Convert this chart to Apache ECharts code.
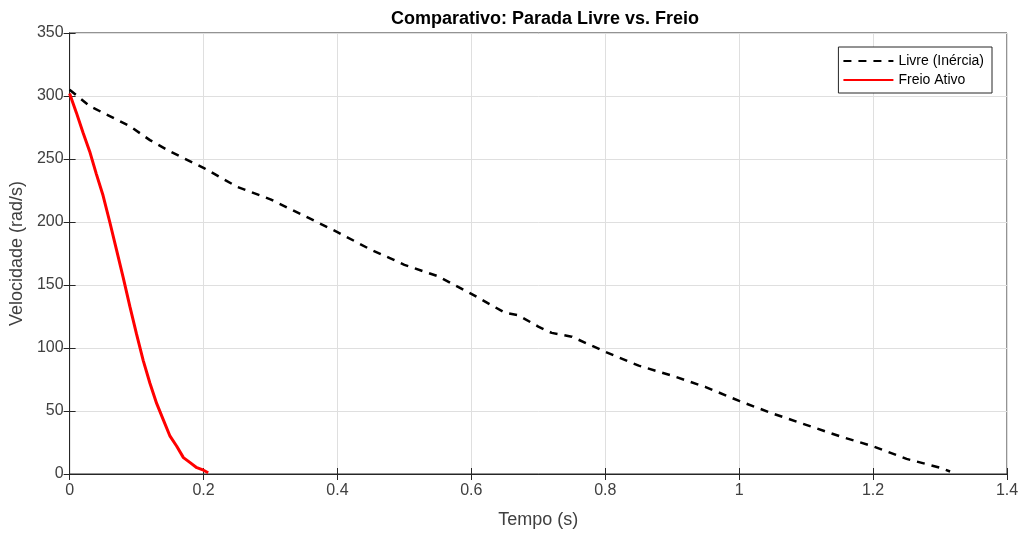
<!DOCTYPE html>
<html>
<head>
<meta charset="utf-8">
<script src="https://cdn.jsdelivr.net/npm/echarts@6/dist/echarts.min.js"></script>
<style>
  html, body { margin: 0; padding: 0; background: #fff; }
  #chart { width: 1025px; height: 534px; }
</style>
</head>
<body>
<div id="chart"></div>
<script>
// curva de parada livre (inercia)
var tLivre = [0, 0.03, 0.06, 0.09, 0.12, 0.15, 0.2, 0.25, 0.3, 0.35, 0.4, 0.45, 0.48, 0.5, 0.55, 0.6, 0.65, 0.67, 0.7, 0.72, 0.75, 0.8, 0.85, 0.9, 0.95, 1.0, 1.05, 1.1, 1.15, 1.2, 1.25, 1.3, 1.315]
var vLivre = [305, 292, 284, 276, 265, 256, 243, 228, 218, 205, 192, 178, 171, 166, 157, 143, 128, 126, 117, 112, 109, 97, 86, 78, 69, 58, 48, 39, 30, 22, 12, 5, 2]
// curva com freio ativo
var tFreio = [0, 0.01, 0.02, 0.03, 0.04, 0.05, 0.06, 0.07, 0.08, 0.09, 0.1, 0.11, 0.12, 0.13, 0.14, 0.15, 0.16, 0.17, 0.18, 0.19, 0.2, 0.207]
var vFreio = [302, 287, 271, 256, 238, 221, 200, 178, 156, 133, 111, 90, 72, 56, 43, 30, 22, 13, 9, 5, 3, 1]

function pares(t, v) {
  return t.map(function(x, i) { return [x, v[i]] })
}

var fonte = '"Liberation Sans", Arial, Helvetica, sans-serif'
var corEixo = '#262626'
var corTexto = '#404040'

// eixos auxiliares (topo/direita) so com os ticks, estilo "box on"
function eixoCaixa(pos, max, step) {
  return {
    type: 'value',
    position: pos,
    min: 0,
    max: max,
    interval: step,
    axisLine: { show: true, lineStyle: { color: corEixo } },
    axisTick: { show: true, inside: true, length: 6, lineStyle: { color: corEixo } },
    axisLabel: { show: false },
    splitLine: { show: false }
  }
}

var chart = echarts.init(document.getElementById('chart'))
var option = {
  backgroundColor: '#fff',
  animation: false,
  title: {
    text: 'Comparativo: Parada Livre vs. Freio',
    left: 540,
    top: 5,
    textAlign: 'center',
    textStyle: { fontFamily: fonte, fontSize: 18, fontWeight: 'bold', color: '#000' }
  },
  legend: {
    orient: 'vertical',
    right: 33,
    top: 47,
    itemWidth: 50,
    itemHeight: 14,
    itemGap: 5,
    padding: [7, 8, 6, 4],
    borderColor: '#262626',
    borderWidth: 1,
    backgroundColor: '#fff',
    itemStyle: { opacity: 0 },
    textStyle: { fontFamily: fonte, fontSize: 14, color: '#000' },
    data: ['Livre (Inércia)', 'Freio Ativo']
  },
  grid: { left: 69, right: 18, top: 33, bottom: 58, show: true, borderColor: corEixo, borderWidth: 1 },
  xAxis: [{
    type: 'value',
    min: 0,
    max: 1.4,
    interval: 0.2,
    name: 'Tempo (s)',
    nameLocation: 'middle',
    nameGap: 37,
    nameTextStyle: { fontFamily: fonte, fontSize: 18, color: corTexto },
    axisLine: { show: true, lineStyle: { color: corEixo } },
    axisTick: { show: true, inside: true, length: 6, lineStyle: { color: corEixo } },
    axisLabel: { fontFamily: fonte, fontSize: 16, color: corTexto, margin: 9 },
    splitLine: { show: true, lineStyle: { color: '#dfdfdf' } }
  }, eixoCaixa('top', 1.4, 0.2)],
  yAxis: [{
    type: 'value',
    min: 0,
    max: 350,
    interval: 50,
    name: 'Velocidade (rad/s)',
    nameLocation: 'middle',
    nameGap: 43,
    nameTextStyle: { fontFamily: fonte, fontSize: 18, color: corTexto },
    axisLine: { show: true, lineStyle: { color: corEixo } },
    axisTick: { show: true, inside: true, length: 6, lineStyle: { color: corEixo } },
    axisLabel: { fontFamily: fonte, fontSize: 16, color: corTexto, margin: 6 },
    splitLine: { show: true, lineStyle: { color: '#dfdfdf' } }
  }, eixoCaixa('right', 350, 50)],
  series: [{
    name: 'Livre (Inércia)',
    type: 'line',
    symbol: 'none',
    data: pares(tLivre, vLivre),
    lineStyle: { color: '#000', width: 2.5, type: [8, 7] },
    itemStyle: { color: '#000' }
  }, {
    name: 'Freio Ativo',
    type: 'line',
    symbol: 'none',
    data: pares(tFreio, vFreio),
    lineStyle: { color: '#ff0000', width: 3 },
    itemStyle: { color: '#ff0000' }
  }]
}
chart.setOption(option)
</script>
</body>
</html>
